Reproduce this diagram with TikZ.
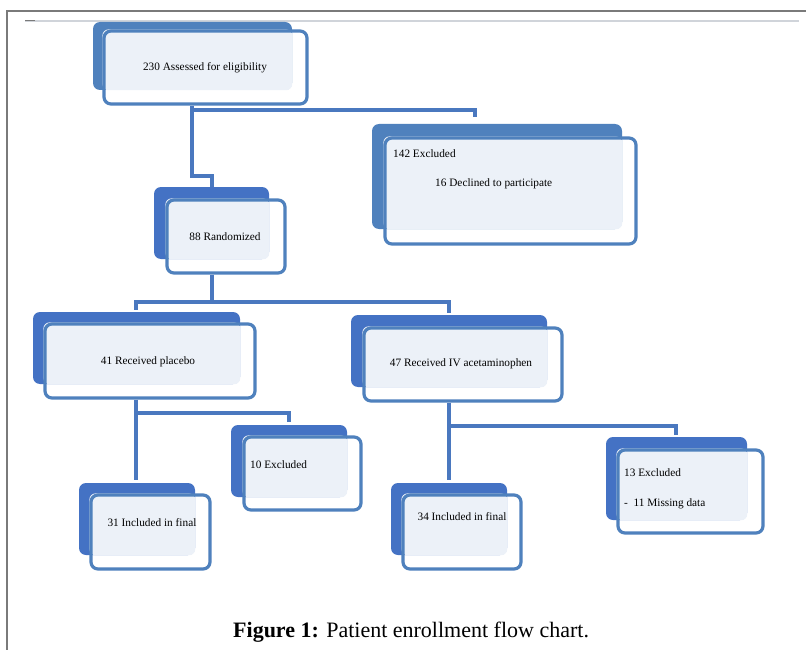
\documentclass[tikz,border=0pt]{standalone}
\usepackage{fontspec}
\setmainfont{Liberation Serif}
\usetikzlibrary{fit}
\definecolor{backA}{HTML}{4F81BD}
\definecolor{backB}{HTML}{4472C4}
\definecolor{frontline}{HTML}{4F81BD}
\definecolor{lightfill}{HTML}{ECF1F8}
\definecolor{connA}{HTML}{4A78BF}
\definecolor{frameline}{HTML}{7A7A7A}
\definecolor{ruleline}{HTML}{D0D4DA}
\tikzset{
  backbox/.style={fill=#1, draw=none, rounded corners=7pt, inner sep=0pt},
  frontbox/.style={draw=frontline, line width=3.2pt, rounded corners=7pt, inner sep=0pt},
  boxtext/.style={font=\fontsize{11.3}{13}\selectfont, inner sep=0pt, text=black},
  conn/.style={draw=connA, line width=3.2pt},
}
\newcommand{\mkbox}[4]{%
  \node[backbox=#2, fit={#3}] (#1b) {};
  \node[frontbox, draw=none, fit={#4}] (#1f) {};
  \fill[lightfill, rounded corners=6pt] (#1f.north west) rectangle (#1b.south east);
  \node[frontbox, fit={#4}] {};
}
\begin{document}
\begin{tikzpicture}[x=1pt,y=-1pt]
\fill[white] (0,0) rectangle (806,650);
\useasboundingbox (0,0) rectangle (806,650);
% frame
\draw[frameline, line width=1.5pt] (7,650) -- (7,11) -- (806,11);
\draw[ruleline, line width=2pt] (25,21) -- (799,21);
\draw[frameline, line width=1pt] (25,20.5) -- (35,20.5);

% boxes: back fill, light fill, front outline
\mkbox{nA}{backA}{(93,22) (292,90)}{(104,31) (307,104)}
\mkbox{nX}{backA}{(372,124) (622,229)}{(385,138) (636,244)}
\mkbox{nR}{backB}{(154,187) (269,259)}{(167,200) (285,273)}
\mkbox{nP}{backB}{(33,312) (240,384)}{(45,324) (255,398)}
\mkbox{nV}{backB}{(351,315) (547,387)}{(364,328) (562,401)}
\mkbox{nE}{backB}{(231,425) (347,497)}{(244,437) (361,510)}
\mkbox{nI}{backB}{(79,483) (195,555)}{(91,495) (210,569)}
\mkbox{nJ}{backB}{(391,483) (507,555)}{(403,495) (521,569)}
\mkbox{nM}{backB}{(606,437) (747,520)}{(618,450) (763,533)}

% junction coordinates
\coordinate (j1) at (192,176);
\coordinate (j2) at (212,176);
\coordinate (j3) at (192,110);
\coordinate (j4) at (475,110);
\coordinate (j5) at (212,302);
\coordinate (j6) at (136,302);
\coordinate (j7) at (449,302);
\coordinate (j8) at (136,413);
\coordinate (j9) at (289,413);
\coordinate (j10) at (449,426);
\coordinate (j11) at (676,426);

% connectors
\draw[conn] (nAf.south -| j1) -- (j1) -- (j2) -- (j2 |- nRb.north);
\draw[conn] (j3) -- (j4) -- ([yshift=7pt]j4 |- nXb.north);
\draw[conn] (nRf.south -| j5) -- (j5);
\draw[conn] ([yshift=2pt]j6 |- nPb.north) -- (j6) -- (j7) -- ([yshift=2pt]j7 |- nVb.north);
\draw[conn] (nPf.south -| j8) -- ([yshift=3pt]j8 |- nIb.north);
\draw[conn] (j8) -- (j9) -- ([yshift=3pt]j9 |- nEb.north);
\draw[conn] (nVf.south -| j10) -- ([yshift=3pt]j10 |- nJb.north);
\draw[conn] (j10) -- (j11) -- ([yshift=2pt]j11 |- nMb.north);

% texts
\node[boxtext] (tA) at (205,68) {230 Assessed for eligibility};
\node[boxtext, anchor=west] (tXa) at (393,154) {142 Excluded};
\node[boxtext, anchor=west] (tXb) at (435,184) {16 Declined to participate};
\node[boxtext] (tR) at (225,237) {88 Randomized};
\node[boxtext] (tP) at (148,362) {41 Received placebo};
\node[boxtext] (tV) at (461,364) {47 Received IV acetaminophen};
\node[boxtext, anchor=west] (tE) at (250,465) {10 Excluded};
\node[boxtext] (tI) at (152,523) {31 Included in final};
\node[boxtext] (tJ) at (462,517) {34 Included in final};
\node[boxtext, anchor=west] (tMa) at (624,473) {13 Excluded};
\node[boxtext, anchor=west] (tMb) at (624,504) {-\ \ 11 Missing data};

% caption
\node[font=\fontsize{22}{25}\selectfont, anchor=west, inner sep=0pt] (cap) at (233,632) {\textbf{Figure 1:} Patient enrollment flow chart.};
\end{tikzpicture}
\end{document}
